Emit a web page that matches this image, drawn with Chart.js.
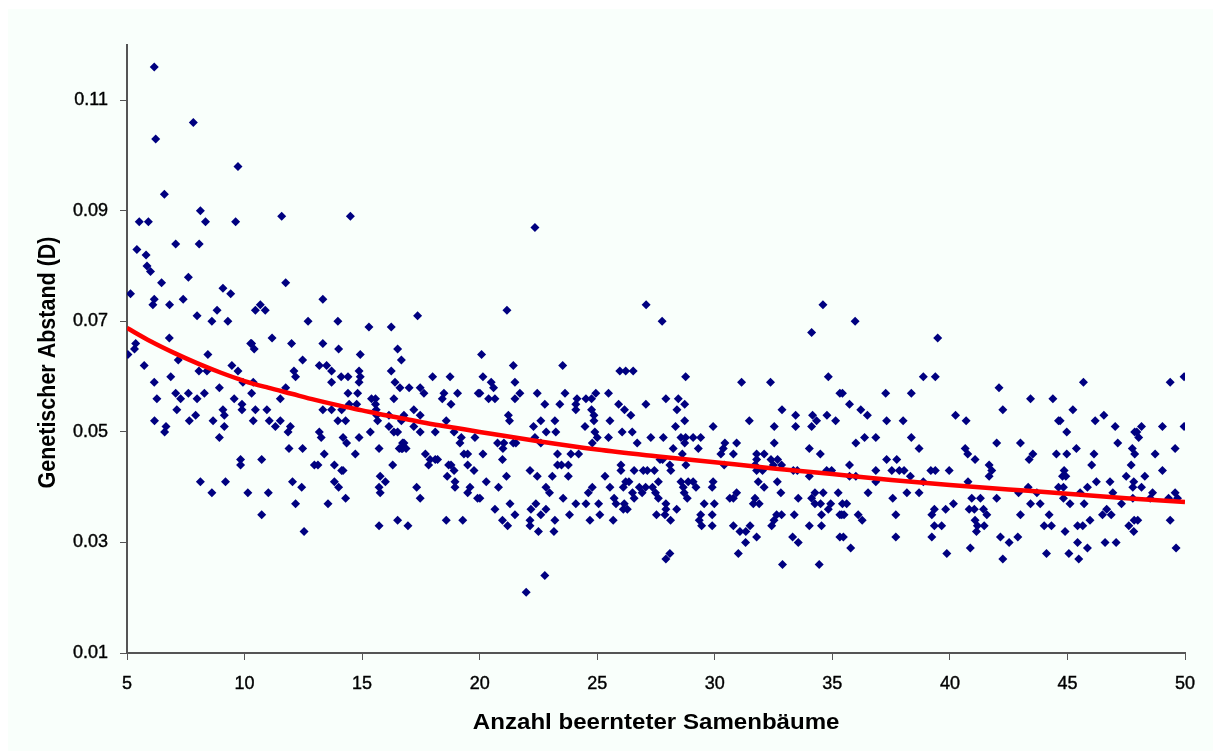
<!DOCTYPE html>
<html>
<head>
<meta charset="utf-8">
<style>
html,body{margin:0;padding:0;background:#fff;overflow:hidden}
#panel{position:absolute;left:8px;top:9px;width:1205px;height:742px;background:#F9FFFB}
#wrap{position:absolute;left:0;top:0;width:1213px;height:751px}
</style>
<script src="https://cdn.jsdelivr.net/npm/chart.js@4"></script>
</head>
<body>
<div id="panel"></div>
<div id="wrap"><canvas id="c" width="1213" height="751"></canvas></div>
<script>
const xTickValues=[5,10,15,20,25,30,35,40,45,50];
const yTickValues=[0.01,0.03,0.05,0.07,0.09,0.11];
const xTitle="Anzahl beernteter Samenbäume";
const yTitle="Genetischer Abstand (D)";

const highTrees=[6.16,7.82,6.22,9.72,6.59,8.12,5.52,5.91,8.34,9.62,
11.58,14.5,7.07,8.07,5.42,5.81,5.85,6.0,6.47,7.61,
11.75,5.15,6.16,6.1,6.81,7.39,9.08,9.41,7.98,8.83,
8.61,9.29,10.67,10.46,10.88,13.33,12.7,13.97,15.29,16.24,
17.36,6.8,11.17,22.35,21.16,27.08,27.76,34.6,35.97];
const highDist=[.116,.106,.103,.098,.093,.090,.088,.088,.088,.088,
.089,.089,.084,.084,.083,.082,.080,.079,.077,.078,
.077,.075,.074,.073,.073,.074,.076,.075,.071,.072,
.070,.070,.073,.072,.072,.074,.070,.070,.069,.069,
.071,.067,.067,.087,.072,.073,.070,.073,.070];

const leftTrees=[5.37,5.32,5.04,10.26,10.41,10.3,12.0,13.33,14.0,14.92,
16.51,16.67,8.44,7.18,5.73,9.46,9.72,8.06,8.4,12.47,
12.1,12.17,13.18,13.49,13.7,13.7,14.11,14.4,14.87,14.92,
14.87,16.24,16.4,16.61,17.0,17.47,17.63,18.0,18.74,6.86,
6.16,8.93,10.37,9.93,11.75,10.3,7.07,7.61,8.29,6.27,
7.28,7.98,9.56,11.52,14.4,14.81,15.4,15.57,16.35,18.48,
18.41,19.06,19.94,18.78,14.45,14.77,15.57,9.89,7.12,9.08,
9.89,10.46,10.95,13.33,13.7,14.13,15.6,17.2,9.14,7.92,
15.62,16.14,16.78,17.47,6.17,7.65,8.66,10.37,11.05,11.52,
13.97,14.3,15.66,16.67,18.58,6.66,9.14,11.31,11.95,16.14,
17.2,6.6,8.93,11.85,13.18,15.35,16.35,16.51,17.47,18.11,
18.91,13.26,14.19,14.87,19.22,19.8,14.34,19.16,16.72,16.78,
16.67,16.87,16.58,16.72,11.89,12.47,15.72,13.39,14.71,17.69,
19.33,19.49,9.83,10.73,17.89,18.11,18.21,12.97,13.12,13.82,
16.3,9.83,17.83,18.68,18.78,19.49,14.13,14.19,18.91,19.76,
15.77,18.62,8.12,9.19,12.04,13.82,15.99,18.95,12.43,14.0,
15.72,17.32,18.95,19.59,8.61,10.14,11.01,15.77,19.49,12.17,
13.55,14.3,17.47,19.91,10.73,15.72,16.51,16.95,18.58,19.28,
12.53];
const leftDist=[.066,.065,.064,.066,.065,.066,.066,.066,.065,.064,
.065,.063,.064,.063,.062,.062,.061,.061,.061,.063,
.061,.060,.062,.062,.061,.059,.060,.060,.061,.060,
.059,.061,.059,.058,.058,.058,.057,.060,.060,.060,
.059,.058,.059,.059,.058,.057,.057,.057,.057,.056,
.056,.056,.056,.056,.057,.057,.056,.056,.056,.057,
.056,.057,.057,.055,.055,.055,.055,.055,.054,.054,
.054,.054,.054,.054,.054,.054,.054,.054,.053,.053,
.053,.053,.053,.053,.052,.052,.052,.052,.052,.052,
.052,.052,.052,.052,.052,.051,.051,.051,.051,.051,
.051,.050,.049,.050,.050,.050,.050,.050,.050,.050,
.050,.049,.049,.049,.049,.049,.048,.048,.048,.048,
.047,.047,.047,.047,.047,.047,.047,.046,.046,.046,
.046,.046,.045,.045,.045,.045,.045,.044,.044,.044,
.044,.044,.044,.044,.044,.044,.043,.043,.043,.043,
.042,.042,.041,.041,.041,.041,.041,.041,.040,.040,
.040,.040,.040,.040,.039,.039,.039,.039,.039,.037,
.037,.038,.038,.038,.035,.033,.034,.033,.034,.034,
.032];

const midTrees=[20.08,21.43,23.53,25.96,26.21,26.53,28.76,20.14,20.49,21.5,
20.59,31.14,32.37,34.83,34.12,20.01,21.71,22.45,23.63,24.94,
25.48,35.32,20.38,20.65,21.5,24.14,24.52,24.76,27.92,28.45,
22.77,23.41,24.09,25.91,27.07,28.72,24.09,24.76,26.16,28.39,
32.86,21.22,24.86,26.43,33.44,34.16,34.77,21.27,22.6,23.2,
24.86,25.54,28.72,31.47,34.33,35.14,22.29,24.48,28.33,29.93,
32.53,33.44,34.12,22.83,23.24,24.9,26.06,26.49,22.35,25.0,
25.48,27.28,27.81,28.56,28.76,29.08,29.4,20.76,21.43,21.54,
21.03,22.6,24.79,26.7,28.72,30.43,30.93,32.53,20.99,28.23,
29.3,30.36,34.02,20.14,23.31,23.88,24.21,28.62,30.26,30.79,
31.78,32.1,34.49,20.97,27.67,31.78,32.39,32.67,27.78,28.77,
26.01,23.31,23.48,23.77,28.09,30.4,31.71,32.49,32.84,22.14,
26.01,26.57,26.96,27.13,27.43,28.13,31.78,32.03,33.34,33.51,
34.76,34.97,21.14,22.45,23.09,23.77,25.33,34.02,20.28,26.21,
26.35,27.6,28.56,28.87,29.08,29.93,31.85,32.66,20.8,22.82,
24.79,25.54,26.11,26.79,27.06,27.35,28.66,29.2,29.89,32.1,
22.97,24.62,26.91,26.5,27.48,28.7,30.93,32.81,34.26,34.61,
35.25,20.01,23.55,25.72,26.57,27.6,28.83,30.64,30.79,31.71,
33.55,34.12,21.29,22.39,24.09,24.52,25.06,25.8,26.15,27.92,
29.55,29.98,31.64,31.89,34.26,34.5,34.93,20.65,22.18,22.82,
26.11,26.28,27.92,28.38,34.83,21.5,22.6,23.82,25.11,27.52,
27.88,29.4,29.89,32.63,32.84,33.38,34.54,35.32,20.97,22.14,
23.2,24.69,25.68,28.12,29.34,32.52,21.19,22.14,29.44,29.89,
30.79,31.5,32.42,34.02,34.54,22.5,23.16,31.07,31.32,31.78,
31.31,33.31,33.55,35.32,28.09,27.92,31.0,32.88,34.44,22.77,
21.98];
const midDist=[.064,.062,.062,.061,.061,.061,.060,.060,.059,.059,
.058,.059,.059,.060,.068,.057,.057,.057,.057,.057,
.057,.057,.056,.056,.056,.056,.056,.056,.056,.056,
.055,.055,.055,.055,.055,.055,.054,.054,.054,.054,
.054,.053,.053,.053,.053,.053,.053,.052,.052,.052,
.052,.052,.052,.052,.052,.052,.051,.051,.051,.051,
.051,.051,.051,.050,.050,.050,.050,.050,.049,.049,
.049,.049,.049,.049,.049,.049,.049,.048,.048,.048,
.048,.048,.048,.048,.048,.048,.048,.048,.047,.047,
.047,.047,.047,.046,.046,.046,.046,.046,.046,.046,
.046,.046,.046,.045,.045,.045,.045,.045,.045,.044,
.044,.044,.044,.044,.044,.044,.044,.044,.044,.043,
.043,.043,.043,.043,.043,.043,.043,.043,.043,.043,
.043,.043,.042,.042,.042,.042,.042,.042,.041,.041,
.041,.041,.041,.041,.041,.041,.041,.041,.040,.040,
.040,.040,.040,.040,.040,.040,.040,.040,.040,.040,
.039,.039,.039,.039,.039,.039,.039,.039,.039,.039,
.039,.038,.038,.038,.038,.038,.038,.038,.038,.038,
.038,.038,.037,.037,.037,.037,.037,.037,.037,.037,
.037,.037,.037,.037,.037,.037,.037,.036,.036,.036,
.036,.036,.036,.036,.036,.035,.035,.035,.035,.035,
.035,.035,.035,.035,.035,.035,.035,.035,.034,.034,
.034,.034,.034,.034,.034,.034,.033,.033,.033,.033,
.033,.033,.033,.033,.033,.032,.032,.032,.032,.031,
.030,.031,.030,.031,.028,.027,.028,.026,.026,.024,
.021];

const rightTrees=[39.48,38.87,39.38,35.43,37.27,38.36,42.09,45.68,49.37,49.96,
43.43,44.38,35.73,36.21,42.25,45.23,36.49,40.24,46.55,37.31,
38.01,40.69,44.62,44.69,46.18,47.03,48.15,49.04,49.96,47.86,
44.97,47.95,36.37,36.85,38.36,48.03,36.0,41.99,43.0,47.14,
38.69,40.65,45.38,47.76,49.58,40.76,43.53,44.53,44.97,46.13,
47.86,48.73,37.31,37.74,41.07,43.37,35.73,41.67,46.03,47.71,
36.85,37.53,37.85,38.05,39.19,39.38,39.97,41.78,44.86,49.04,
35.73,36.0,38.32,41.67,44.79,44.93,47.5,48.29,36.85,38.87,
40.77,46.23,46.81,47.82,43.33,44.62,44.83,45.85,47.78,48.15,
36.52,38.17,38.69,42.92,43.7,45.54,46.93,48.62,49.58,48.52,
37.57,40.93,41.3,41.99,44.83,47.78,49.3,49.68,35.43,35.61,
40.15,43.43,43.84,45.11,45.71,47.3,39.34,39.82,40.82,41.04,
41.43,46.67,35.4,35.5,36.1,37.7,39.23,41.57,43.0,44.22,
46.49,46.86,36.27,41.07,45.96,47.84,47.99,49.37,39.34,39.65,
41.17,41.46,44.01,44.32,45.43,45.65,47.61,41.13,44.9,47.82,
35.47,37.7,39.23,42.15,42.89,42.52,45.43,46.6,47.07,35.78,
40.87,45.85,49.62,39.87,44.11,45.06,42.25,45.48];
const rightDist=[.067,.060,.060,.057,.057,.057,.058,.059,.059,.060,
.056,.056,.055,.054,.054,.054,.053,.053,.053,.052,
.052,.052,.052,.052,.052,.051,.051,.051,.051,.050,
.050,.050,.049,.049,.049,.049,.048,.048,.048,.048,
.047,.047,.047,.047,.047,.046,.046,.046,.046,.046,
.046,.046,.045,.045,.045,.045,.044,.044,.044,.044,
.043,.043,.043,.043,.043,.043,.043,.043,.043,.043,
.042,.042,.042,.042,.042,.042,.042,.042,.041,.041,
.041,.041,.041,.041,.040,.040,.040,.040,.040,.040,
.039,.039,.039,.039,.039,.039,.039,.039,.039,.038,
.038,.038,.038,.038,.038,.038,.038,.038,.037,.037,
.037,.037,.037,.037,.037,.037,.036,.036,.036,.036,
.036,.036,.035,.035,.035,.035,.035,.035,.035,.035,
.035,.035,.034,.034,.034,.034,.034,.034,.033,.033,
.033,.033,.033,.033,.033,.033,.033,.032,.032,.032,
.031,.031,.031,.031,.031,.030,.030,.030,.030,.029,
.029,.029,.029,.028,.028,.028,.027,.027];

const trendTrees=[5,6,7,8,9,10,11,12,13,14,15,16,17,18,19,20,22.5,25,27.5,30,32.5,35,37.5,40,42.5,45,47.5,50];
const trendDist=[.0688,.0664,.0643,.0624,.0607,.0592,.0580,.0569,.0558,.0548,.0539,.0530,.0522,.0514,.0507,.0500,.0483,.0468,.0456,.0445,.0434,.0424,.0413,.0404,.0396,.0388,.0380,.0373];

const allTrees=[...highTrees,...leftTrees,...midTrees,...rightTrees];
const allDist=[...highDist,...leftDist,...midDist,...rightDist];
const pts=allTrees.map((x,i)=>({x,y:allDist[i]})).filter(p=>p.y!==undefined);
const trend=trendTrees.map((x,i)=>({x,y:trendDist[i]}));
const axisGrey='#555555';
const family='"Liberation Sans",Arial,sans-serif';
const tickFont={family,size:18};
const titleFont={family,size:21.5,weight:'bold'};
const stretch=1.12;
function wrapTitle(scale,cx,dy){
  if(scale._titleWrapped)return;
  scale._titleWrapped=true;
  const d=scale.drawTitle;
  scale.drawTitle=function(){
    const c=this.ctx;c.save();
    c.translate(cx,dy);c.scale(stretch,1);c.translate(-cx,0);
    d.call(this);c.restore();
  };
}
new Chart(document.getElementById('c'),{
  type:'scatter',
  data:{datasets:[
    {label:'Genetischer Abstand',data:pts,pointStyle:'rectRot',pointRadius:4.5,pointHoverRadius:4.5,backgroundColor:'#000080',borderColor:'#000080',borderWidth:0,order:2},
    {label:'Trend',type:'line',data:trend,borderColor:'#FF0000',borderWidth:4.5,cubicInterpolationMode:'monotone',pointRadius:0,fill:false,order:1}
  ]},
  options:{
    responsive:false,animation:false,
    layout:{padding:{left:0,right:28,top:45,bottom:0}},
    plugins:{legend:{display:false},title:{display:false},tooltip:{enabled:false}},
    scales:{
      x:{type:'linear',min:5,max:50,
        afterBuildTicks:a=>{a.ticks=xTickValues.map(value=>({value}));},
        afterFit:s=>{s.height=98;wrapTitle(s,654.5,0);},
        grid:{display:true,drawOnChartArea:false,drawTicks:true,tickLength:7,color:axisGrey,lineWidth:1},
        border:{display:true,color:axisGrey,width:2},
        ticks:{color:'#000',font:tickFont,padding:13,maxRotation:0,textStrokeColor:'#000',textStrokeWidth:0.4,callback:v=>String(v)},
        title:{display:true,text:xTitle,color:'#000',font:titleFont,padding:{top:14,bottom:15}}
      },
      y:{type:'linear',min:0.01,max:0.12,
        afterBuildTicks:a=>{a.ticks=yTickValues.map(value=>({value}));},
        afterFit:s=>{s.width=127;wrapTitle(s,47,13.5);},
        grid:{display:true,drawOnChartArea:false,drawTicks:true,tickLength:7,color:axisGrey,lineWidth:1},
        border:{display:true,color:axisGrey,width:2},
        ticks:{color:'#000',font:tickFont,padding:12,textStrokeColor:'#000',textStrokeWidth:0.4,callback:v=>v.toFixed(2)},
        title:{display:true,text:yTitle,color:'#000',font:titleFont,padding:{top:35,bottom:0}}
      }
    }
  }
});
</script>
</body>
</html>
